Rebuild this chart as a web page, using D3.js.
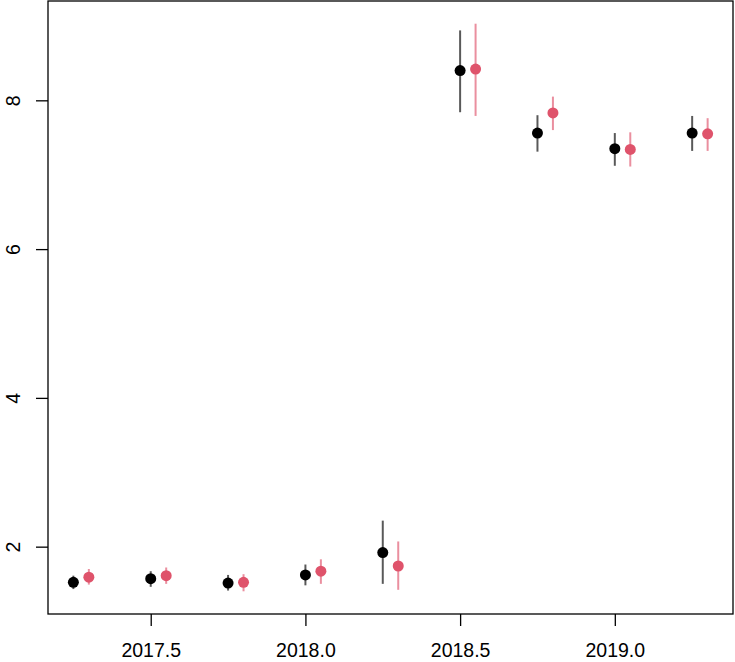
<!DOCTYPE html>
<html>
<head>
<meta charset="utf-8">
<script src="https://cdn.jsdelivr.net/npm/d3@7"></script>
<style>
  body { margin: 0; background: #fff; }
  svg text { font-family: "Liberation Sans", Arial, Helvetica, sans-serif; }
</style>
</head>
<body>
<svg id="chart" width="735" height="662"></svg>
<script>
// quarters (black series); red series sits 0.05 to the right
var quarters = [2017.25, 2017.5, 2017.75, 2018.0, 2018.25, 2018.5, 2018.75, 2019.0, 2019.25];
var redOffset = 0.05;

var blackMid   = [1.52, 1.57, 1.51, 1.62, 1.92, 8.40, 7.56, 7.35, 7.56];
var blackLower = [1.43, 1.46, 1.41, 1.48, 1.50, 7.84, 7.31, 7.12, 7.32];
var blackUpper = [1.61, 1.67, 1.62, 1.76, 2.35, 8.94, 7.80, 7.56, 7.79];

var redMid   = [1.59, 1.61, 1.52, 1.67, 1.74, 8.42, 7.83, 7.34, 7.55];
var redLower = [1.49, 1.50, 1.40, 1.50, 1.42, 7.79, 7.60, 7.11, 7.32];
var redUpper = [1.70, 1.72, 1.63, 1.83, 2.07, 9.03, 8.05, 7.57, 7.76];

var xTicks = [2017.5, 2018.0, 2018.5, 2019.0];
var yTicks = [2, 4, 6, 8];

var svg = d3.select("svg#chart");
var box = {left: 48, right: 733, top: 1, bottom: 614};

var series = [
  {col: "#000000", x: quarters.map(d => d), mid: blackMid, lo: blackLower, hi: blackUpper},
  {col: "#DF536B", x: quarters.map(d => d + redOffset), mid: redMid, lo: redLower, hi: redUpper}
];

// R style domains: data range padded by 4% each side
var allX = series.flatMap(s => s.x);
var allY = series.flatMap(s => s.lo.concat(s.hi));
function pad(ext){ let r = ext[1] - ext[0]; return [ext[0] - 0.04*r, ext[1] + 0.04*r]; }

var x = d3.scaleLinear().domain(pad(d3.extent(allX))).range([box.left, box.right]);
var y = d3.scaleLinear().domain(pad(d3.extent(allY))).range([box.bottom, box.top]);

//error bars
series.forEach(function(s){
  svg.append("g")
    .selectAll("line")
    .data(s.x)
    .enter().append("line")
    .attr("x1", d => x(d))
    .attr("x2", d => x(d))
    .attr("y1", (d,i) => y(s.lo[i]))
    .attr("y2", (d,i) => y(s.hi[i]))
    .attr("stroke", s.col)
    .attr("stroke-opacity", 0.65)
    .attr("stroke-width", 2);
});

//points
series.forEach(function(s){
  svg.append("g")
    .selectAll("circle")
    .data(s.x)
    .enter().append("circle")
    .attr("cx", d => x(d))
    .attr("cy", (d,i) => y(s.mid[i]))
    .attr("r", 5.5)
    .attr("fill", s.col);
});

//xaxis
var gx = svg.append("g")
  .attr("transform", `translate(0,${box.bottom})`)
  .call(d3.axisBottom(x).tickValues(xTicks).tickSize(12).tickFormat(d3.format(".1f")));
gx.select(".domain").remove();
gx.selectAll("line").attr("stroke", "#000").attr("stroke-width", 1.3);
gx.selectAll("text")
  .attr("y", 43).attr("dy", null)
  .attr("fill", "#000")
  .attr("font-size", "19.5px");

//yaxis
var gy = svg.append("g")
  .attr("transform", `translate(${box.left},0)`)
  .call(d3.axisLeft(y).tickValues(yTicks).tickSize(12).tickFormat(d3.format("d")));
gy.select(".domain").remove();
gy.selectAll("line").attr("stroke", "#000").attr("stroke-width", 1.3);
gy.selectAll("text")
  .attr("x", 0).attr("dy", null)
  .attr("text-anchor", "middle")
  .attr("transform", "translate(-28,0) rotate(-90)")
  .attr("fill", "#000")
  .attr("font-size", "19.5px");

//box
svg.append("rect")
  .attr("x", box.left)
  .attr("y", box.top)
  .attr("width", box.right - box.left)
  .attr("height", box.bottom - box.top)
  .attr("fill", "none")
  .attr("stroke", "#000")
  .attr("stroke-width", 1.3);
</script>
</body>
</html>
